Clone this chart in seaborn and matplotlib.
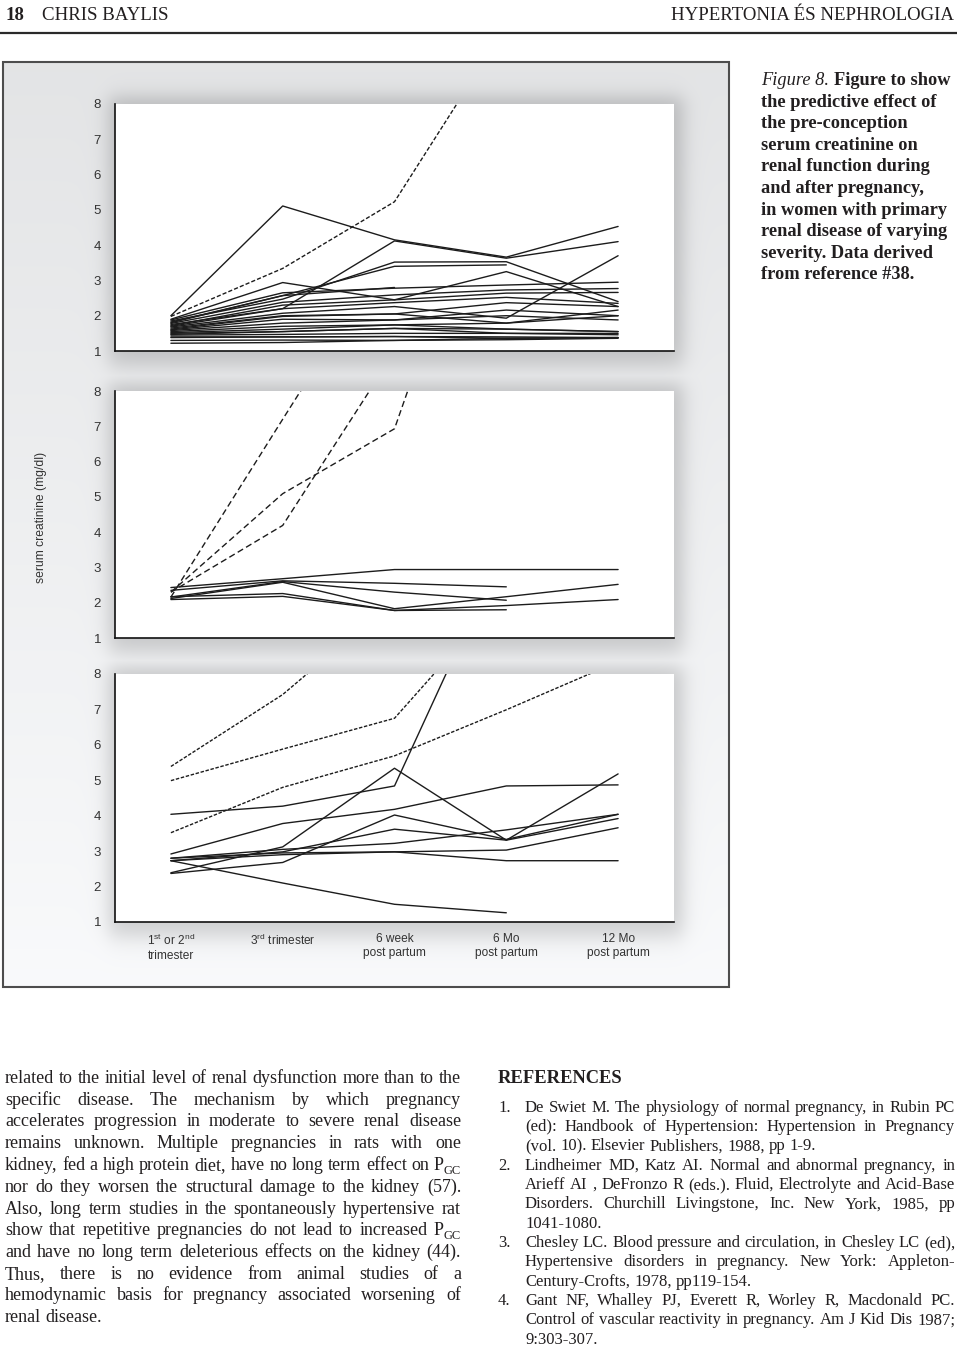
import numpy as np
import pandas as pd
import matplotlib
matplotlib.use("Agg")
import matplotlib.pyplot as plt
import seaborn as sns
from matplotlib.font_manager import FontProperties
from matplotlib.patches import Rectangle

nan = np.nan

# ---------------- data ----------------
CATEGORIES = [
    "1$^{\\mathrm{st}}$ or 2$^{\\mathrm{nd}}$\ntrimester",
    "3$^{\\mathrm{rd}}$ trimester",
    "6 week\npost partum",
    "6 Mo\npost partum",
    "12 Mo\npost partum",
]
Y_TICKS = [1, 2, 3, 4, 5, 6, 7, 8]
Y_LABEL = "serum creatinine (mg/dl)"

# panel 1 (mild)
P1_DASHED = [[1.98, 3.34, 5.23, 10.2, nan]]
P1_SOLID = [
    [2.00, 5.11, 4.15, 3.66, 4.53],
    [1.75, 2.20, 4.12, 3.63, 4.10],
    [1.85, 2.47, 3.52, 3.53, 2.40],
    [1.80, 2.57, 3.40, 3.44, nan],
    [1.88, 2.65, 2.78, 2.87, 2.95],
    [1.90, 2.94, 2.45, 3.25, 2.26],
    [1.82, 2.57, 2.80, nan, nan],
    [1.78, 2.38, 2.59, 2.73, 2.77],
    [1.72, 2.30, 2.45, 2.64, 2.66],
    [1.70, 2.20, 2.37, 2.52, 2.35],
    [1.68, 2.07, 2.26, 1.93, 3.70],
    [1.65, 2.00, 2.05, 2.37, 2.26],
    [1.62, 1.98, 2.05, 1.79, 2.16],
    [1.60, 1.90, 1.88, 2.16, 2.00],
    [1.58, 1.79, 1.88, 2.00, 1.88],
    [1.55, 1.70, 1.74, 1.62, 1.55],
    [1.52, 1.62, 1.74, 1.79, 2.00],
    [1.50, 1.55, 1.64, 1.62, 1.55],
    [1.47, 1.55, 1.64, 1.50, 1.50],
    [1.45, 1.47, 1.50, 1.50, 1.46],
    [1.40, 1.40, 1.41, 1.40, 1.38],
    [1.38, 1.40, 1.41, 1.36, 1.38],
    [1.30, 1.31, 1.30, 1.36, 1.38],
    [1.22, 1.24, 1.30, 1.32, 1.36],
]

# panel 2 (moderate)
P2_DASHED = [
    [2.16, 7.20, 12.2, nan, nan],
    [2.30, 4.19, 9.10, nan, nan],
    [2.30, 5.09, 6.93, 16.0, nan],
]
P2_SOLID = [
    [2.43, 2.68, 2.94, 2.94, 2.94],
    [2.35, 2.62, 2.55, 2.45, nan],
    [2.16, 2.60, 2.30, 2.07, nan],
    [2.12, 2.58, 1.83, 2.17, 2.52],
    [2.17, 2.26, 1.78, 1.80, nan],
    [2.09, 2.18, 1.78, 1.92, 2.09],
]

# panel 3 (severe)
P3_DASHED = [
    [5.39, 7.42, 10.1, nan, nan],
    [4.99, 5.88, 6.75, 10.3, nan],
    [3.52, 4.80, 5.69, 6.99, 8.35],
]
P3_SOLID = [
    [4.04, 4.27, 4.84, 11.7, nan],
    [2.92, 3.78, 4.18, 4.84, 4.87],
    [2.39, 3.12, 5.34, 3.31, 5.18],
    [2.37, 2.68, 4.02, 3.33, 4.04],
    [2.73, 2.98, 3.62, 3.31, 3.92],
    [2.80, 3.05, 3.22, 3.60, 4.04],
    [2.80, 2.95, 2.98, 3.03, 3.66],
    [2.73, 2.90, 2.98, 2.73, 2.73],
    [2.73, 2.10, 1.50, 1.26, nan],
]

HEADER_LEFT_NUM = "18"
HEADER_LEFT = "CHRIS BAYLIS"
HEADER_RIGHT = "HYPERTONIA ÉS NEPHROLOGIA"
CAPTION_ITALIC = "Figure 8."
CAPTION_LINES = [
    "Figure to show",
    "the predictive effect of",
    "the pre-conception",
    "serum creatinine on",
    "renal function during",
    "and after pregnancy,",
    "in women with primary",
    "renal disease of varying",
    "severity. Data derived",
    "from reference #38.",
]
BODY_LINES = [
    "related to the initial level of renal dysfunction more than to the",
    "specific disease. The mechanism by which pregnancy",
    "accelerates progression in moderate to severe renal disease",
    "remains unknown. Multiple pregnancies in rats with one",
    "kidney, fed a high protein diet, have no long term effect on P_GC",
    "nor do they worsen the structural damage to the kidney (57).",
    "Also, long term studies in the spontaneously hypertensive rat",
    "show that repetitive pregnancies do not lead to increased P_GC",
    "and have no long term deleterious effects on the kidney (44).",
    "Thus, there is no evidence from animal studies of a",
    "hemodynamic basis for pregnancy associated worsening of",
    "renal disease.",
]
REF_TITLE = "REFERENCES"
REFS = [
    ["De Swiet M. The physiology of normal pregnancy, in Rubin PC",
     "(ed): Handbook of Hypertension: Hypertension in Pregnancy",
     "(vol. 10). Elsevier Publishers, 1988, pp 1-9."],
    ["Lindheimer MD, Katz AI. Normal and abnormal pregnancy, in",
     "Arieff AI , DeFronzo R (eds.). Fluid, Electrolyte and Acid-Base",
     "Disorders. Churchill Livingstone, Inc. New York, 1985, pp",
     "1041-1080."],
    ["Chesley LC. Blood pressure and circulation, in Chesley LC (ed),",
     "Hypertensive disorders in pregnancy. New York: Appleton-",
     "Century-Crofts, 1978, pp119-154."],
    ["Gant NF, Whalley PJ, Everett R, Worley R, Macdonald PC.",
     "Control of vascular reactivity in pregnancy. Am J Kid Dis 1987;",
     "9:303-307."],
]

# ---------------- style ----------------
sns.set_style("white")
plt.rcParams["font.family"] = ["Liberation Sans", "DejaVu Sans"]
plt.rcParams["mathtext.fontset"] = "custom"
plt.rcParams["mathtext.rm"] = "Liberation Sans"
plt.rcParams["mathtext.it"] = "Liberation Sans:italic"
plt.rcParams["mathtext.bf"] = "Liberation Sans:bold"

TXT = "#221f20"
LINE = "#1c1c1c"
TICKC = "#333333"

W, H = 960, 1350
fig = plt.figure(figsize=(W / 100, H / 100), dpi=100)
fig.patch.set_facecolor("white")

bg = fig.add_axes([0, 0, 1, 1])
bg.set_zorder(0)
bg.axis("off")

# panel geometry (pixels)
PL, PR = 115, 674
PANELS = [(104, 351), (391, 638), (674, 922)]
BOX = (3, 62, 729, 987)

# gray figure box with soft shadows
xs = np.arange(BOX[0], BOX[2]) + 0.5
ys = np.arange(BOX[1], BOX[3]) + 0.5
XX, YY = np.meshgrid(xs, ys)
t = (YY - BOX[1]) / (BOX[3] - BOX[1])
base = 0.895 + 0.085 * t


def sig(z):
    return 1.0 / (1.0 + np.exp(-z))


shade = np.zeros_like(base)
for (T, B) in PANELS:
    fx = sig((XX - (PL - 6)) / 5.5) * sig(((PR + 9) - XX) / 5.5)
    fy = sig((YY - (T - 7)) / 5.5) * sig(((B + 14) - YY) / 7.0)
    shade = np.maximum(shade, fx * fy)
g = base - 0.17 * shade
img = np.clip(np.dstack([g - 0.004, g, g + 0.006]), 0, 1)
bg.imshow(img, extent=(BOX[0], BOX[2], BOX[3], BOX[1]), origin="upper",
          interpolation="bilinear", aspect="auto", zorder=0)
bg.add_patch(Rectangle((BOX[0], BOX[1]), BOX[2] - BOX[0], BOX[3] - BOX[1],
                       fill=False, ec="#4d4d4d", lw=1.5, zorder=1))
bg.set_xlim(0, W)
bg.set_ylim(H, 0)


def long_df(series_list):
    rows = []
    for sid, s in enumerate(series_list):
        for xi, v in enumerate(s):
            rows.append((sid, xi, v))
    return pd.DataFrame(rows, columns=["sid", "x", "y"])


def draw_panel(T, B, solid, dashed, dash_pat, show_labels):
    ax = fig.add_axes([PL / W, 1 - B / H, (PR - PL) / W, (B - T) / H])
    ax.set_zorder(2)
    ax.set_facecolor("white")
    sns.lineplot(data=long_df(solid), x="x", y="y", units="sid", estimator=None,
                 sort=False, color=LINE, lw=1.0, ax=ax, legend=False)
    n1 = len(ax.lines)
    sns.lineplot(data=long_df(dashed), x="x", y="y", units="sid", estimator=None,
                 sort=False, color=LINE, lw=1.0, ax=ax, legend=False)
    for ln in ax.lines[n1:]:
        ln.set_dashes(dash_pat)
    ax.set_xlim(-0.5, len(CATEGORIES) - 0.5)
    ax.set_ylim(Y_TICKS[0], Y_TICKS[-1])
    ax.set_yticks(Y_TICKS)
    ax.set_yticklabels([str(v) for v in Y_TICKS])
    ax.set_xticks(np.arange(-0.5, len(CATEGORIES), 1.0))
    ax.set_xticklabels([])
    if show_labels:
        ax.set_xticks(range(len(CATEGORIES)), minor=True)
        ax.set_xticklabels(CATEGORIES, minor=True)
        ax.tick_params(axis="x", which="minor", length=0, pad=8,
                       labelsize=8.6, labelcolor=TICKC)
    ax.tick_params(axis="x", which="major", length=6, width=1.0,
                   direction="out", color="#111111")
    ax.tick_params(axis="y", length=7, width=1.0, pad=3, direction="out",
                   labelsize=9.5, labelcolor=TICKC, color="#111111")
    ax.set_xlabel("")
    ax.set_ylabel("")
    sns.despine(ax=ax)
    for sp in ("left", "bottom"):
        ax.spines[sp].set_linewidth(1.2)
        ax.spines[sp].set_color("#111111")
    ax.grid(False)
    return ax


draw_panel(PANELS[0][0], PANELS[0][1], P1_SOLID, P1_DASHED, (3, 1.5), False)
draw_panel(PANELS[1][0], PANELS[1][1], P2_SOLID, P2_DASHED, (4.5, 2.5), False)
draw_panel(PANELS[2][0], PANELS[2][1], P3_SOLID, P3_DASHED, (2.5, 1.2), True)

bg.text(41, 517, Y_LABEL, rotation=90, ha="center", va="center",
        fontsize=8.7, color=TICKC, zorder=3)

# ---------------- page text ----------------
renderer = fig.canvas.get_renderer()


def tw(s, fp):
    return renderer.get_text_width_height_descent(s, fp, ismath=False)[0]


def space_w(fp):
    return tw("a a", fp) - tw("aa", fp)


fp_head = FontProperties(family="Liberation Serif", size=13.6)
fp_head_b = FontProperties(family="Liberation Serif", size=13.6, weight="bold")
bg.text(6, 20, HEADER_LEFT_NUM, fontproperties=fp_head_b, color=TXT, va="baseline")
bg.text(42, 20, HEADER_LEFT, fontproperties=fp_head, color=TXT, va="baseline")
bg.text(954, 20, HEADER_RIGHT, fontproperties=fp_head, color=TXT, va="baseline", ha="right")
bg.plot([0, 957], [33, 33], color="#2a2a2a", lw=1.6, solid_capstyle="butt")

# caption
fp_cap_b = FontProperties(family="Liberation Serif", size=13.2, weight="bold")
fp_cap_i = FontProperties(family="Liberation Serif", size=13.2, style="italic")
cx = 761
for i, line in enumerate(CAPTION_LINES):
    yb = 85 + i * 21.6
    if i == 0:
        bg.text(cx, yb, CAPTION_ITALIC, fontproperties=fp_cap_i, color=TXT, va="baseline")
        x2 = cx + tw(CAPTION_ITALIC, fp_cap_i) + space_w(fp_cap_b)
        bg.text(x2, yb, line, fontproperties=fp_cap_b, color=TXT, va="baseline")
    else:
        bg.text(cx, yb, line, fontproperties=fp_cap_b, color=TXT, va="baseline")


def token_w(tok, fp, fp_sub):
    if tok == "P_GC":
        return tw("P", fp) + tw("GC", fp_sub)
    return tw(tok, fp)


def draw_line(text, x0, x1, yb, fp, fp_sub, justify):
    toks = [t_ for t_ in text.split(" ") if t_ != ""]
    widths = [token_w(t_, fp, fp_sub) for t_ in toks]
    sp = space_w(fp)
    if justify and len(toks) > 1:
        gap = (x1 - x0 - sum(widths)) / (len(toks) - 1)
        gap = max(gap, 0.4 * sp)
    else:
        gap = sp
    x = x0
    for t_, w_ in zip(toks, widths):
        if t_ == "P_GC":
            bg.text(x, yb, "P", fontproperties=fp, color=TXT, va="baseline")
            bg.text(x + tw("P", fp), yb + 3.5, "GC", fontproperties=fp_sub,
                    color=TXT, va="baseline")
        else:
            bg.text(x, yb, t_, fontproperties=fp, color=TXT, va="baseline")
        x += w_ + gap


fp_body = FontProperties(family="Liberation Serif", size=13)
fp_body_sub = FontProperties(family="Liberation Serif", size=9)
for i, line in enumerate(BODY_LINES):
    yb = 1083 + i * 21.75
    draw_line(line, 5, 461, yb, fp_body, fp_body_sub, i < len(BODY_LINES) - 1)

fp_ref_t = FontProperties(family="Liberation Serif", size=13.3, weight="bold")
bg.text(498, 1083, REF_TITLE, fontproperties=fp_ref_t, color=TXT, va="baseline")
fp_ref = FontProperties(family="Liberation Serif", size=12)
k = 0
for n, ref in enumerate(REFS):
    for j, line in enumerate(ref):
        yb = 1111.5 + k * 19.35
        if j == 0:
            bg.text(498, yb, f"{n + 1}.", fontproperties=fp_ref, color=TXT, va="baseline")
        draw_line(line, 525, 955, yb, fp_ref, fp_body_sub, j < len(ref) - 1)
        k += 1

fig.savefig("out.png", dpi=100)
